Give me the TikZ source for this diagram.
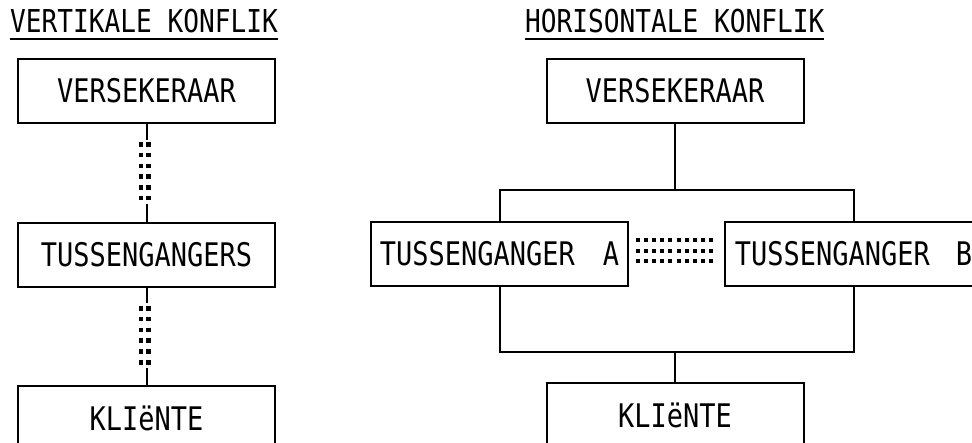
\documentclass[tikz,border=0pt]{standalone}
\usepackage{fontspec}
\newfontfamily\plotfont[FakeStretch=0.83]{DejaVu Sans Mono}
\usetikzlibrary{positioning, calc}
\tikzset{
    org_box/.style={
        rectangle,
        draw=black,
        line width=2pt,
        minimum width=257pt,
        minimum height=64pt,
        inner sep=0pt,
        font=\plotfont\fontsize{32.5}{36}\selectfont
    },
    org_title/.style={
        inner sep=0pt,
        anchor=base west,
        font=\plotfont\fontsize{31.5}{36}\selectfont
    },
    org_link/.style={
        line width=2pt
    },
    org_ladder/.style={
        line width=4.5pt,
        dash pattern=on 4.5pt off 6.3pt
    },
    org_rung/.style={
        line width=4pt,
        dash pattern=on 4pt off 4.1pt
    }
}

\begin{document}
\begin{tikzpicture}[x=1pt, y=-1pt]
\useasboundingbox (0,0) rectangle (972,442);
\clip (0,0) rectangle (972,442);

% Headings
\node[org_title] (titleL) at (10,32) {VERTIKALE KONFLIK};
\node[org_title] (titleR) at (525,32) {HORISONTALE KONFLIK};
\draw[org_link] ([yshift=-7pt]titleL.base west) -- ([yshift=-7pt]titleL.base east);
\draw[org_link] ([yshift=-7pt]titleR.base west) -- ([yshift=-7pt]titleR.base east);

% Vertical chain
\node[org_box] (versL) at (146.5,91) {VERSEKERAAR};
\node[org_box, below=98pt of versL] (tussL) {TUSSENGANGERS};
\node[org_box, below=97pt of tussL] (klientL) {KLIëNTE};

\draw[org_link] (versL.south) -- ++(0,16);
\draw[org_ladder] ($(versL.south)+(-5.5,18)$) -- ($(tussL.north)+(-5.5,-22)$);
\draw[org_ladder] ($(versL.south)+(2,18)$) -- ($(tussL.north)+(2,-22)$);
\draw[org_link] (tussL.north) -- ++(0,-18);

\draw[org_link] (tussL.south) -- ++(0,15);
\draw[org_ladder] ($(tussL.south)+(-5.5,18)$) -- ($(klientL.north)+(-5.5,-20)$);
\draw[org_ladder] ($(tussL.south)+(2,18)$) -- ($(klientL.north)+(2,-20)$);
\draw[org_link] (klientL.north) -- ++(0,-17);

% Horizontal split
\node[org_box] (versR) at (675,91) {VERSEKERAAR};
\node[org_box] (tussA) at (499.5,254) {TUSSENGANGER\hspace{28pt}A};
\node[org_box, right=95pt of tussA] (tussB) {TUSSENGANGER\hspace{26pt}B};
\node[org_box] (klientR) at (675,415) {KLIëNTE};

\coordinate (topBar) at (675,190);
\coordinate (botBar) at (675,352);

\draw[org_link] (versR.south) -- (topBar);
\draw[org_link] (tussA.north) |- (topBar) -| (tussB.north);
\draw[org_link] (tussA.south) |- (botBar) -| (tussB.south);
\draw[org_link] (botBar) -- (klientR.north);

\foreach \dy in {-14,-3.5,7}
  \draw[org_rung] ($(tussA.east)+(7,\dy)$) -- ($(tussB.west)+(-11,\dy)$);

\end{tikzpicture}
\end{document}
